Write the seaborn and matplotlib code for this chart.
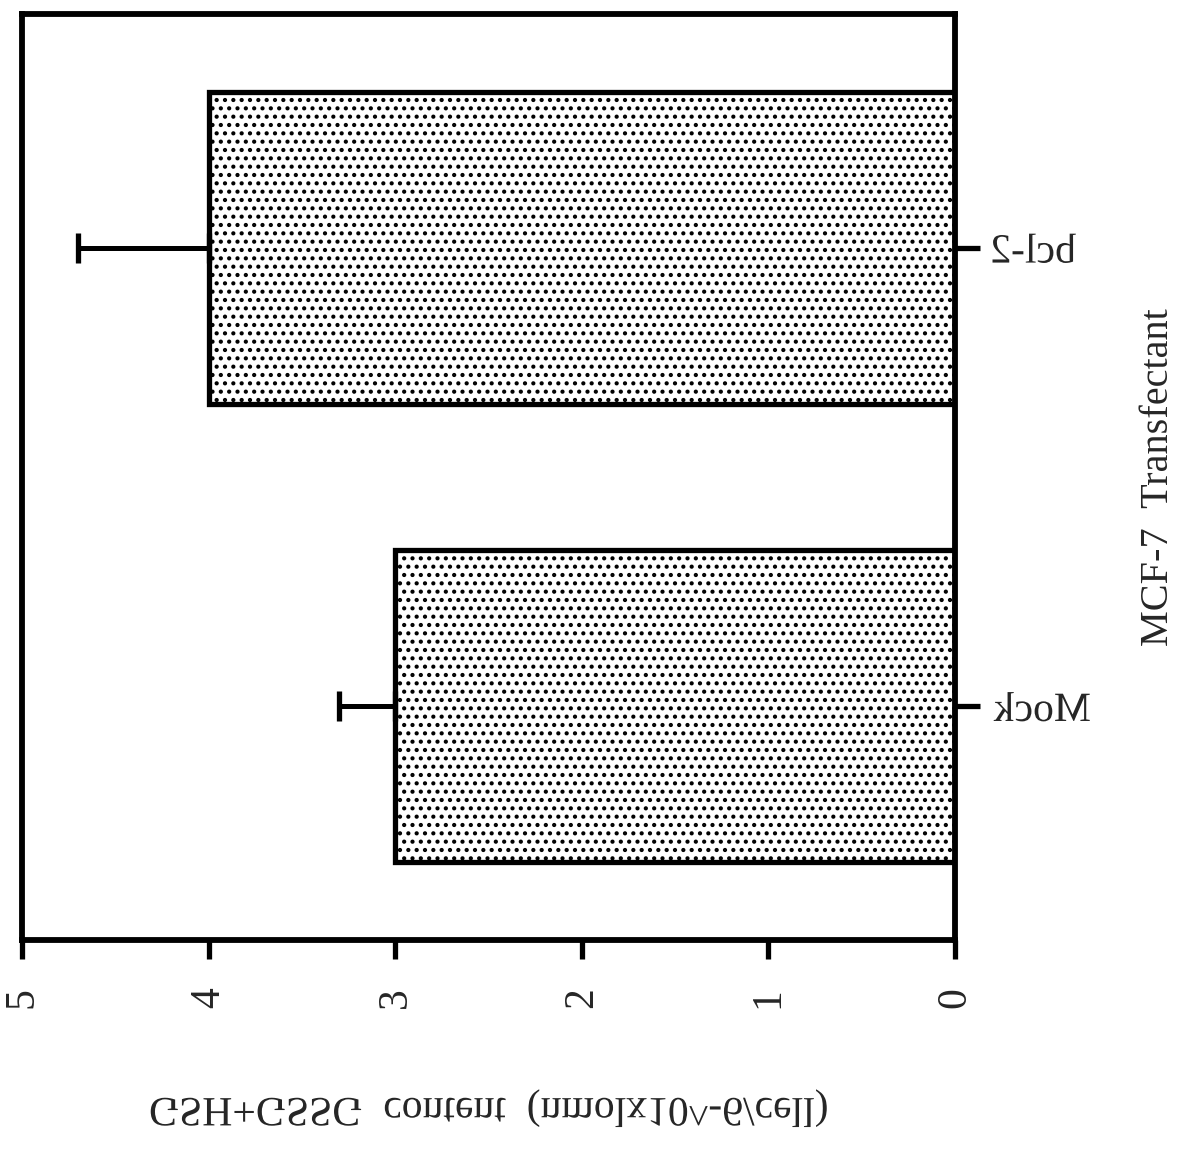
import matplotlib
matplotlib.use("Agg")
import matplotlib.pyplot as plt
import seaborn as sns
import pandas as pd
from matplotlib.patheffects import AbstractPathEffect
from matplotlib.transforms import Affine2D

# values (nmol x 10^-6 per cell)
groups = ["Mock", "bcl-2"]
gsh_content = [3.0, 4.0]
gsh_err = [0.3, 0.7]
value_ticks = [0, 1, 2, 3, 4, 5]

x_title = "GSH+GSSG  content  (nmolx10^-6/cell)"
y_title = "MCF-7  Transfectant"


class Flip(AbstractPathEffect):
    """mirror the glyphs of a text about their own centre (the scan is mirrored)"""

    def __init__(self, sx=1, sy=1):
        super().__init__()
        self.sx, self.sy = sx, sy

    def draw_path(self, renderer, gc, tpath, affine, rgbFace=None):
        ext = tpath.get_extents(affine)
        cx, cy = (ext.x0 + ext.x1) / 2, (ext.y0 + ext.y1) / 2
        flip = Affine2D().translate(-cx, -cy).scale(self.sx, self.sy).translate(cx, cy)
        renderer.draw_path(gc, tpath, affine + flip, rgbFace)


sns.set_style("white")
plt.rcParams["font.family"] = ["Liberation Serif", "DejaVu Serif"]
plt.rcParams["hatch.linewidth"] = 1.8

df = pd.DataFrame({"group": groups, "gsh": gsh_content, "err": gsh_err})
order = groups[::-1]  # bcl-2 drawn on top

fig = plt.figure(figsize=(11.77, 11.51), dpi=100)
ax = fig.add_axes([0.0187, 0.1833, 0.7927, 0.8045])

sns.barplot(data=df, x="gsh", y="group", order=order, orient="h", width=0.68,
            color="white", saturation=1, edgecolor="black", linewidth=3.8,
            hatch="..", errorbar=None, ax=ax)

# one-sided error bars (only outward)
ypos = [order.index(g) for g in df["group"]]
ax.errorbar(df["gsh"], ypos, xerr=[[0] * len(df), df["err"]], fmt="none",
            ecolor="black", elinewidth=3.6, capsize=10.5, capthick=3.8, zorder=3)

ax.set_xlim(5, 0)
ax.set_ylim(1.51, -0.51)
ax.set_xticks(value_ticks)
ax.set_xticklabels([str(v) for v in value_ticks])

ax.yaxis.tick_right()
ax.yaxis.set_label_position("right")
ax.tick_params(axis="x", bottom=True, length=14, width=3.8, direction="out",
               pad=20, labelsize=30, labelrotation=90, color="black")
ax.tick_params(axis="y", left=False, right=True, length=18, width=3.8,
               direction="out", pad=9, labelsize=30, color="black")

for s in ax.spines.values():
    s.set_visible(True)
    s.set_linewidth(4.2)
    s.set_color("black")

ax.set_xlabel(x_title, fontsize=30, labelpad=58)
ax.set_ylabel(y_title, fontsize=29, rotation=90, labelpad=36)

# the scan shows these texts mirrored
for lab in ax.get_yticklabels():
    lab.set_path_effects([Flip(sx=-1)])
ax.xaxis.label.set_path_effects([Flip(sy=-1)])

plt.savefig("out.png", dpi=100)
